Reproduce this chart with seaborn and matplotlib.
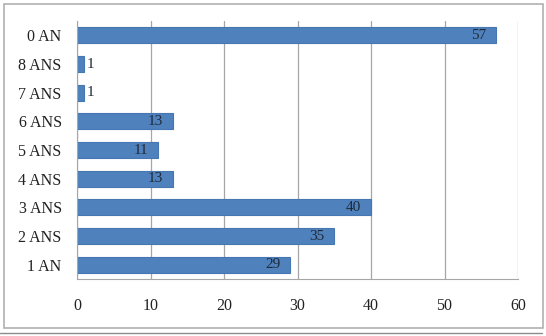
import numpy as np
import pandas as pd
import matplotlib
matplotlib.use("Agg")
from matplotlib import pyplot as plt
from matplotlib.patches import Rectangle
from matplotlib.lines import Line2D
import seaborn as sns

# data, top to bottom as shown
categories = ["0 AN", "8 ANS", "7 ANS", "6 ANS", "5 ANS", "4 ANS", "3 ANS", "2 ANS", "1 AN"]
values = [57, 1, 1, 13, 11, 13, 40, 35, 29]
x_ticks = [0, 10, 20, 30, 40, 50, 60]

df = pd.DataFrame({"cat": categories, "val": values})

sns.set_style("white")
plt.rcParams["font.family"] = ["Liberation Serif", "DejaVu Serif"]

fig = plt.figure(figsize=(5.46, 3.36), dpi=100)
ax = fig.add_axes([77 / 546, 1 - 279 / 336, 441 / 546, 258 / 336])

sns.barplot(data=df, x="val", y="cat", orient="h", ax=ax, color="#4F81BD",
            width=0.56, edgecolor="#4677B3", linewidth=0.8, saturation=1)

for i, v in enumerate(values):
    if v < 5:
        ax.text(v + 0.25, i, str(v), va="center", ha="left", fontsize=11, color="#1F2A3A")
    else:
        ax.text(v - 1.3, i, str(v), va="center", ha="right", fontsize=11, color="#1F2A3A")

ax.set_xlim(0, 60)
ax.set_ylim(len(categories) - 0.5, -0.5)
ax.set_xticks(x_ticks)
ax.set_xlabel("")
ax.set_ylabel("")
ax.xaxis.grid(True, color="#A6A6A6", linewidth=0.9)
ax.set_axisbelow(True)
for s in ["top", "right"]:
    ax.spines[s].set_visible(False)
ax.spines["left"].set_color("#A6A6A6")
ax.spines["bottom"].set_color("#A6A6A6")
ax.tick_params(axis="x", length=0, pad=14, labelsize=11.5, colors="#222222")
ax.tick_params(axis="y", length=0, pad=11, labelsize=11.5, colors="#222222")

# outer chart frame
fig.patches.append(Rectangle((4 / 546, 1 - 328 / 336), 539 / 546, 324 / 336,
                             transform=fig.transFigure, fill=False,
                             edgecolor="#B0B0B0", linewidth=1.2))
fig.lines.append(Line2D([0, 542 / 546], [1 - 333 / 336] * 2, transform=fig.transFigure,
                        color="#8C8C8C", linewidth=1.0))

fig.savefig("out.png", dpi=100)
